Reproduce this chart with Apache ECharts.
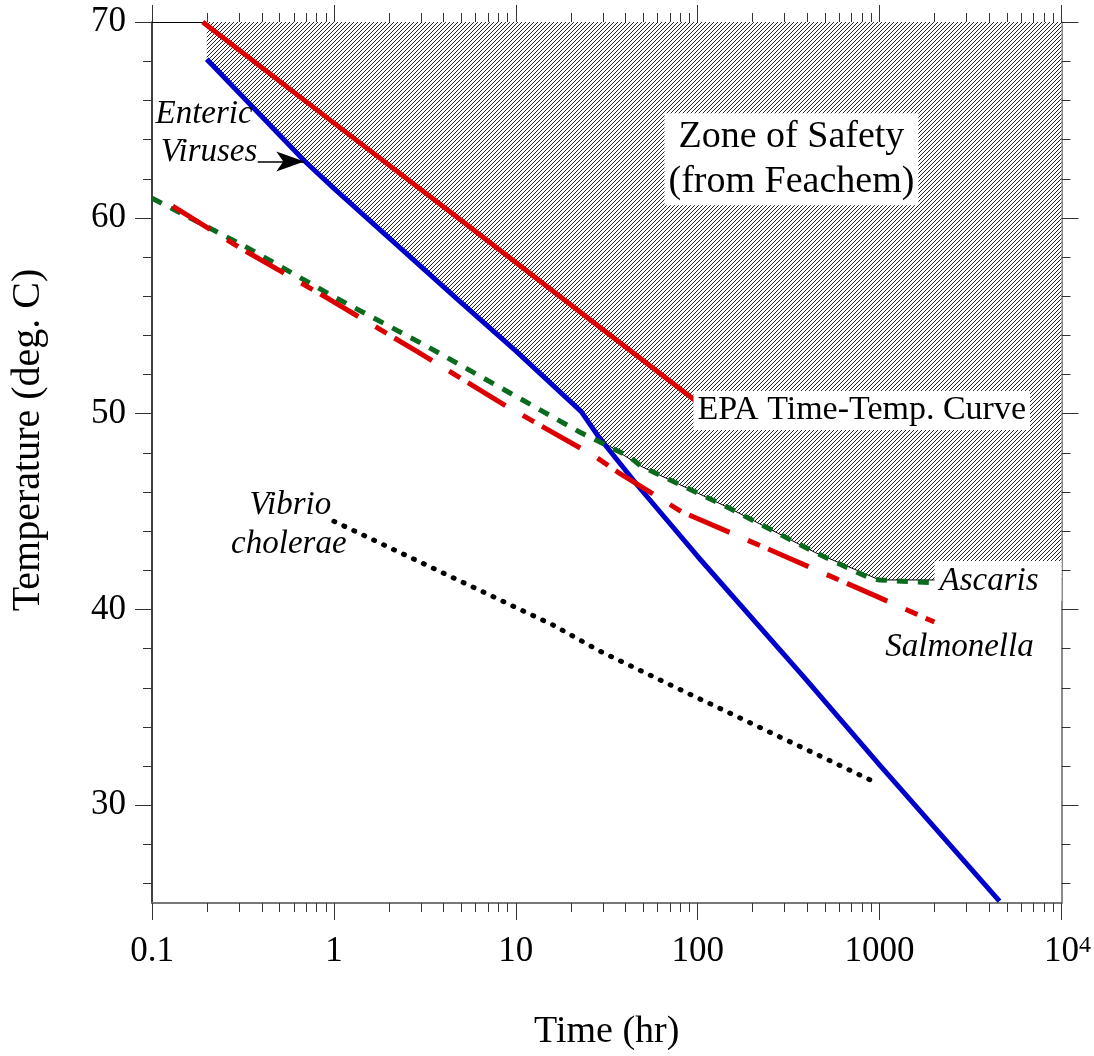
<!DOCTYPE html>
<html><head><meta charset="utf-8">
<script src="https://cdn.jsdelivr.net/npm/echarts@6/dist/echarts.min.js"></script>
<style>html,body{margin:0;padding:0;background:#fff}#c{width:1094px;height:1056px}</style>
</head><body><div id="c"></div>
<script>
// ---------- data ----------
const xTickLabels = [0.1, 1, 10, 100, 1000, 10000];
const xMinorTicks = [0.2,0.3,0.4,0.5,0.6,0.7,0.8,0.9, 2,3,4,5,6,7,8,9, 20,30,40,50,60,70,80,90,
                     200,300,400,500,600,700,800,900, 2000,3000,4000,5000,6000,7000,8000,9000];
const yTickLabels = [30, 40, 50, 60, 70];
const yMinorTicks = [26,28,32,34,36,38,42,44,46,48,52,54,56,58,62,64,66,68];

const epaCurve = [[0.19,70],[0.95,65],[4.8,60],[24,55],[120,50]];
const entericViruses = [[0.2,68.1],[0.69,62.9],[1,61.5],[4.7,55.9],[10,53.2],[22.9,50.1],[28.6,48.8],
                        [47,46.3],[100,42.7],[387,36.5],[1010,32.0],[4560,25.1]];
const ascaris = [[0.1,61.0],[0.33,58.5],[1.03,55.9],[3.3,53.4],[9.5,51.0],[22,49.1],[42,47.8],
                 [49,47.3],[147,45.2],[443,42.9],[880,41.6],[1000,41.5],[2000,41.35]];
const salmonella = [[0.13,60.6],[0.3,58.5],[0.94,55.85],[2.83,53.2],[8.8,50.4],[27.4,47.8],
                    [36.5,47.0],[81,45.0],[303,42.7],[943,40.7],[2000,39.35]];
const vibrioCholerae = [[1,44.5],[16,39.2],[28.5,37.9],[89,35.7],[980,31.1]];
const safetyZoneLower = [[0.2,68.1],[0.69,62.9],[1,61.5],[4.7,55.9],[10,53.2],[22.9,50.1],[32,48.4],
                         [49,47.3],[147,45.2],[443,42.9],[1000,41.5],[10000,41.5]];
const safetyZoneTop = 70;

const labelTexts = ['Enteric','Viruses','Zone of Safety\n(from Feachem)','EPA Time-Temp. Curve',
                    'Vibrio','cholerae','Ascaris','Salmonella'];
const labelAnchors = [[0.1933,65.29],[0.2059,63.35],[327.6,62.99],[798,50.16],
                      [0.576,45.32],[0.565,43.34],[2005,41.45],[2748,38.04]];
const arrowFromTo = [[0.3813,62.87],[0.6875,62.87]];

// ---------- styling ----------
const FONT = "'Liberation Serif','Times New Roman',serif";
const italic = {font: 'italic 33px ' + FONT};
const labelStyles = [
  italic, italic,
  {font: '38px ' + FONT, lineHeight: 45, backgroundColor: '#fff', padding: [1,4,1,4]},
  {font: '34px ' + FONT, lineHeight: 34, backgroundColor: '#fff', padding: [3,4,2,4]},
  italic, italic,
  {font: 'italic 33px ' + FONT, lineHeight: 30, backgroundColor: '#fff', padding: [5,23,5,5], align: 'left'},
  italic
];

function hatchCanvas() {
  const c = document.createElement('canvas');
  c.width = 4; c.height = 4;
  const g = c.getContext('2d');
  g.fillStyle = '#fff'; g.fillRect(0,0,4,4);
  g.fillStyle = '#222';
  for (let i = 0; i < 4; i++) g.fillRect(i, 3 - i, 1, 1);
  return c;
}
const hatch = hatchCanvas();

const chart = echarts.init(document.getElementById('c'), null, {renderer: 'canvas'});

const xBase = {
  type: 'log', logBase: 10, min: 0.1, max: 10000, splitNumber: 5,
  splitLine: {show: false},
  axisTick: {show: true, inside: false, length: 17, lineStyle: {color: '#333', width: 1}},
};
const yBase = {
  type: 'value', min: 25, max: 70, splitLine: {show: false},
  axisTick: {show: true, inside: false, length: 17, customValues: yTickLabels, lineStyle: {color: '#333', width: 1}},
};

chart.setOption({
  animation: false,
  backgroundColor: '#fff',
  grid: {left: 152, right: 31, top: 22, bottom: 151, containLabel: false},
  xAxis: [
    Object.assign({}, xBase, {
      position: 'bottom',
      axisLine: {show: true, onZero: false, lineStyle: {color: '#777', width: 2}},
      axisLabel: {
        show: true, margin: 31, color: '#000', fontFamily: FONT, fontSize: 35, lineHeight: 35,
        showMinLabel: true, showMaxLabel: true,
        formatter: v => v >= 9999 ? '{p|10}{s|4}' : String(+v.toPrecision(6)),
        rich: {
          p: {fontFamily: FONT, fontSize: 35, lineHeight: 35, color: '#000', padding: [0,0,0,12]},
          s: {fontFamily: FONT, fontSize: 24, lineHeight: 22, color: '#000', verticalAlign: 'top'}
        }
      },
      name: 'Time (hr)', nameLocation: 'middle', nameGap: 110,
      nameTextStyle: {fontFamily: FONT, fontSize: 38, lineHeight: 38, color: '#000'}
    }),
    Object.assign({}, xBase, {
      position: 'top',
      axisLine: {show: true, onZero: false, lineStyle: {color: '#000', width: 1}},
      axisLabel: {show: false}
    })
  ],
  yAxis: [
    Object.assign({}, yBase, {
      position: 'left',
      axisLine: {show: true, onZero: false, lineStyle: {color: '#000', width: 1.5}},
      axisLabel: {show: true, customValues: yTickLabels, margin: 26, color: '#000', fontFamily: FONT, fontSize: 35}
    }),
    Object.assign({}, yBase, {
      position: 'right',
      axisLine: {show: true, onZero: false, lineStyle: {color: '#666', width: 1.5}},
      axisLabel: {show: false}
    })
  ],
  graphic: [{
    type: 'text', x: 28, y: 440, rotation: Math.PI / 2,
    style: {text: 'Temperature (deg. C)', font: '40px ' + FONT, fill: '#000', align: 'center', verticalAlign: 'middle'}
  }],
  series: [
    { // hatched zone of safety
      type: 'custom', name: 'Zone of Safety', silent: true, z: 1, clip: false,
      data: [[1, 60]],
      renderItem(params, api) {
        const lower = safetyZoneLower.map(p => api.coord(p));
        const first = safetyZoneLower[0], last = safetyZoneLower[safetyZoneLower.length - 1];
        const pts = [api.coord([first[0], safetyZoneTop]), api.coord([last[0], safetyZoneTop])]
          .concat(lower.slice().reverse());
        return {type: 'group', children: [
          {type: 'polygon', shape: {points: pts}, style: {fill: {image: hatch, repeat: 'repeat'}, stroke: null}},
          {type: 'polyline', shape: {points: lower}, style: {stroke: '#000', lineWidth: 1, fill: null}}
        ]};
      }
    },
    {
      type: 'line', name: 'Enteric Viruses', data: entericViruses, symbol: 'none', z: 3,
      lineStyle: {color: '#0000cc', width: 5},
      markLine: {
        silent: true, symbol: ['none', 'arrow'], symbolSize: [15, 28], label: {show: false},
        lineStyle: {color: '#000', width: 1.5, type: 'solid'},
        emphasis: {disabled: true},
        data: [[{coord: arrowFromTo[0]}, {coord: arrowFromTo[1]}]]
      }
    },
    {type: 'line', name: 'EPA', data: epaCurve, symbol: 'none', z: 3, lineStyle: {color: '#dd0000', width: 5}},
    {type: 'line', name: 'Ascaris', data: ascaris, symbol: 'none', z: 3,
     lineStyle: {color: '#0a6a1e', width: 5, type: [11, 10]}},
    {type: 'line', name: 'Salmonella', data: salmonella, symbol: 'none', z: 3,
     lineStyle: {color: '#dd0000', width: 5, type: [44, 20, 13, 9]}},
    {type: 'line', name: 'Vibrio cholerae', data: vibrioCholerae, symbol: 'none', z: 3,
     lineStyle: {color: '#000', width: 5, type: [1, 10], cap: 'round'}},
    { // minor x ticks (top & bottom)
      type: 'custom', silent: true, z: 5, clip: false,
      data: xMinorTicks.map(v => [v, 25]),
      renderItem(params, api) {
        const v = api.value(0);
        const b = api.coord([v, 25]), t = api.coord([v, 70]);
        const x = Math.round(b[0]) + 0.5;
        return {type: 'group', children: [
          {type: 'line', shape: {x1: x, y1: b[1], x2: x, y2: b[1] + 9}, style: {stroke: '#333', lineWidth: 1}},
          {type: 'line', shape: {x1: x, y1: t[1] - 9, x2: x, y2: t[1]}, style: {stroke: '#333', lineWidth: 1}}
        ]};
      }
    },
    { // minor y ticks (left & right)
      type: 'custom', silent: true, z: 5, clip: false,
      data: yMinorTicks.map(v => [0.1, v]),
      renderItem(params, api) {
        const v = api.value(1);
        const l = api.coord([0.1, v]), r = api.coord([10000, v]);
        const y = Math.round(l[1]) + 0.5;
        return {type: 'group', children: [
          {type: 'line', shape: {x1: l[0] - 9, y1: y, x2: l[0], y2: y}, style: {stroke: '#333', lineWidth: 1}},
          {type: 'line', shape: {x1: r[0], y1: y, x2: r[0] + 9, y2: y}, style: {stroke: '#333', lineWidth: 1}}
        ]};
      }
    },
    { // text annotations
      type: 'custom', silent: true, z: 10, clip: false,
      data: labelAnchors,
      renderItem(params, api) {
        const i = params.dataIndex;
        const c = api.coord([api.value(0), api.value(1)]);
        return {type: 'text', x: c[0], y: c[1],
          style: Object.assign({text: labelTexts[i], fill: '#000', align: 'center', verticalAlign: 'middle'}, labelStyles[i])};
      }
    }
  ]
});
</script></body></html>
